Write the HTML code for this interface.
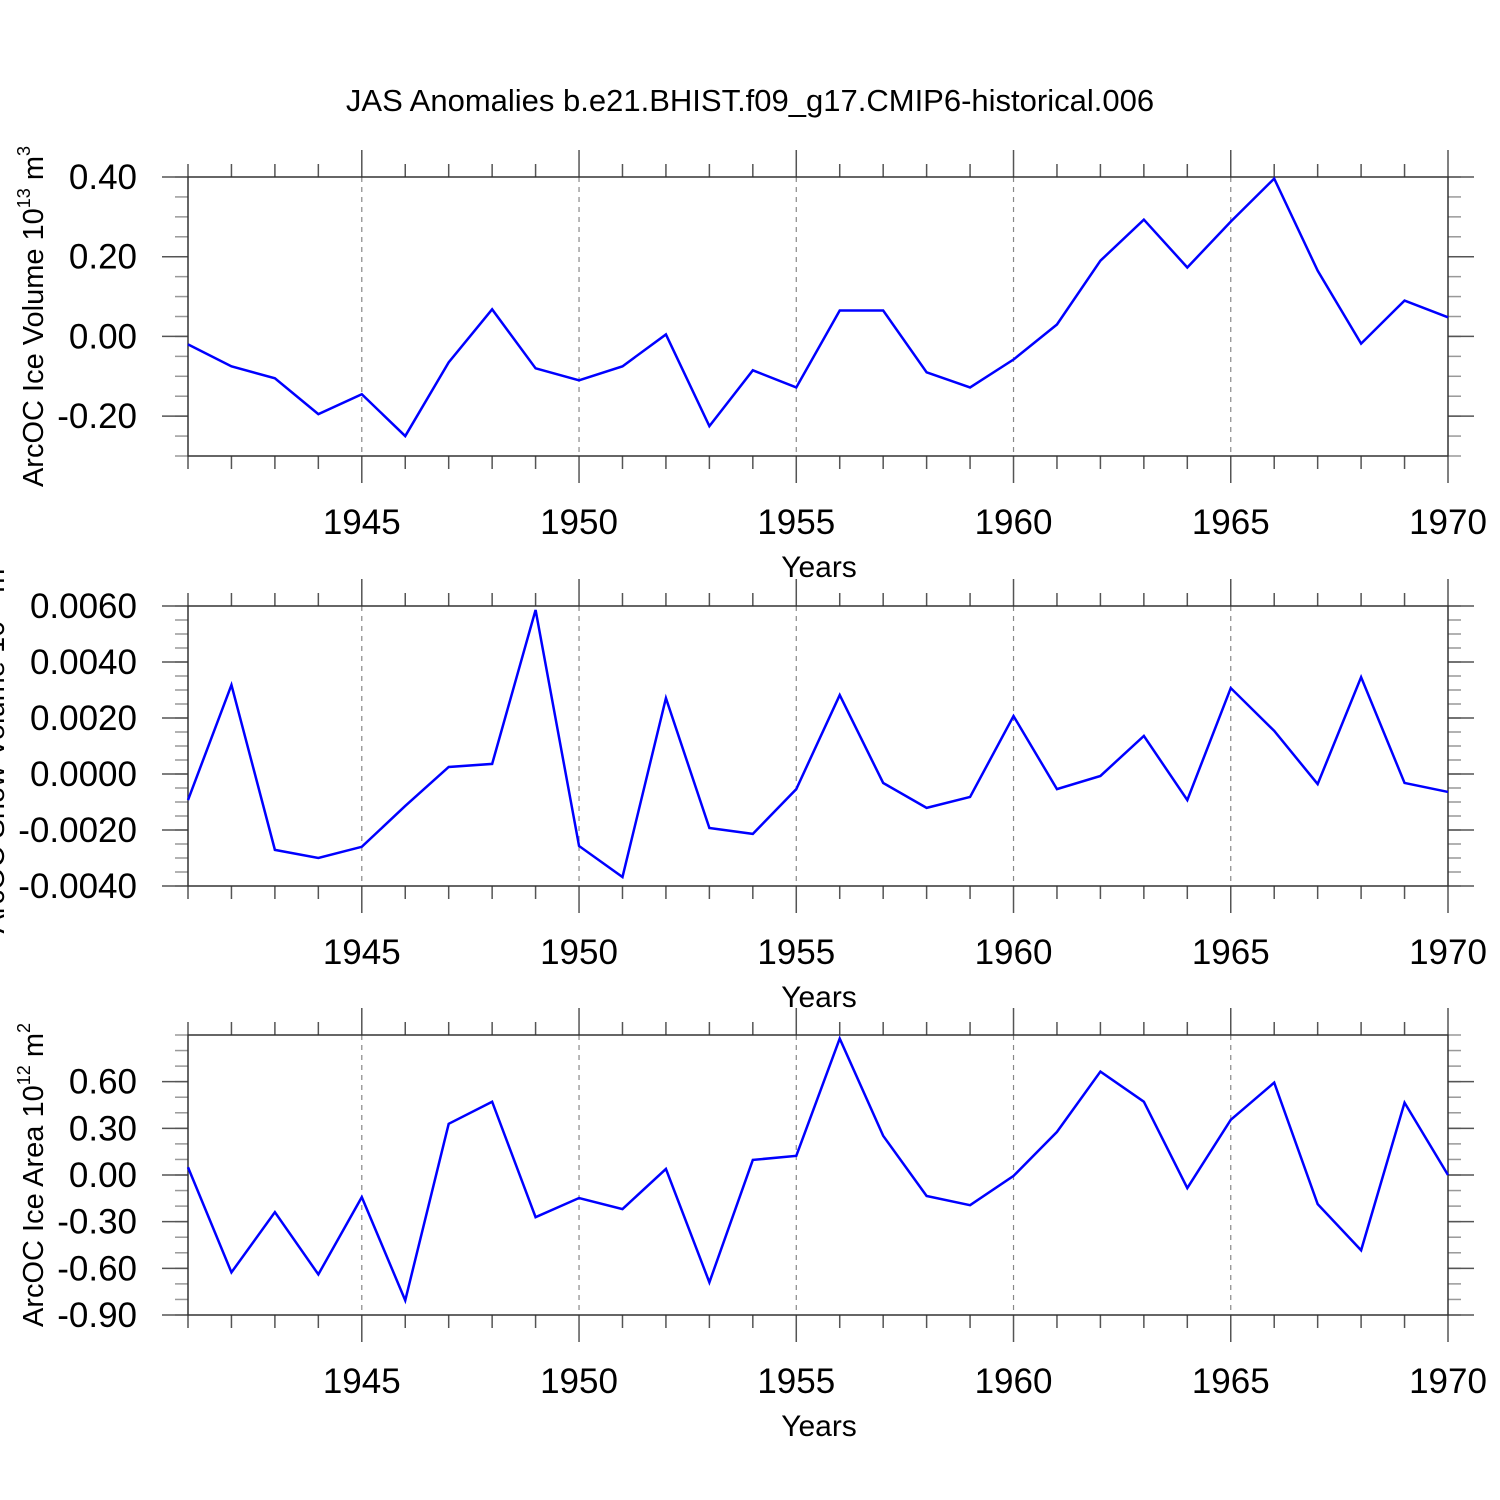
<!DOCTYPE html>
<html><head><meta charset="utf-8"><style>
html,body{margin:0;padding:0;background:#fff;}
svg{display:block;font-family:"Liberation Sans",Arial,sans-serif;}
</style></head><body>
<svg id="chart" width="1500" height="1500" viewBox="0 0 1500 1500">
<text x="750" y="111" text-anchor="middle" font-size="31">JAS Anomalies b.e21.BHIST.f09_g17.CMIP6-historical.006</text>
</svg>
<script>
const years = [1941,1942,1943,1944,1945,1946,1947,1948,1949,1950,1951,1952,1953,1954,1955,1956,1957,1958,1959,1960,1961,1962,1963,1964,1965,1966,1967,1968,1969,1970];
const iceVolume = [-0.02,-0.075,-0.105,-0.195,-0.145,-0.25,-0.065,0.068,-0.08,-0.11,-0.075,0.005,-0.225,-0.085,-0.128,0.065,0.065,-0.09,-0.128,-0.058,0.03,0.19,0.293,0.173,0.288,0.396,0.165,-0.018,0.09,0.048];
const snowVolume = [-0.00093,0.00318,-0.00271,-0.0030,-0.0026,-0.00114,0.00025,0.00036,0.00586,-0.00257,-0.00368,0.00271,-0.00193,-0.00214,-0.00054,0.00282,-0.00032,-0.00121,-0.00082,0.00207,-0.00054,-0.00007,0.00136,-0.00093,0.00307,0.00154,-0.00036,0.00346,-0.00032,-0.00064];
const iceArea = [0.05,-0.626,-0.239,-0.639,-0.142,-0.806,0.329,0.471,-0.271,-0.148,-0.219,0.039,-0.69,0.097,0.123,0.877,0.252,-0.135,-0.194,-0.006,0.277,0.665,0.471,-0.084,0.355,0.594,-0.187,-0.484,0.465,0];
const xTicks = [1945,1950,1955,1960,1965,1970];
const ticks1 = [-0.2,0,0.2,0.4];
const ticks1Labels = ["-0.20","0.00","0.20","0.40"];
const ticks2 = [-0.004,-0.002,0,0.002,0.004,0.006];
const ticks2Labels = ["-0.0040","-0.0020","0.0000","0.0020","0.0040","0.0060"];
const ticks3 = [-0.9,-0.6,-0.3,0,0.3,0.6];
const ticks3Labels = ["-0.90","-0.60","-0.30","0.00","0.30","0.60"];

const NS="http://www.w3.org/2000/svg";
const svg=document.getElementById('chart');
const L=188,R=1448;
function x(yr){return L+(yr-1941)*(R-L)/29;}
function mk(tag,attrs,parent){const e=document.createElementNS(NS,tag);for(const k in attrs)e.setAttribute(k,attrs[k]);(parent||svg).appendChild(e);return e;}

function panel(id,top,bot,ymin,ymax,vals,ticks,labels,minorStep,ylabel,sup,unit,unitSup,labelX){
  const g=mk('g',{});
  
  
  const y=v=>bot-(v-ymin)/(ymax-ymin)*(bot-top);
  xTicks.forEach(t=>{if(t<1970){const l=mk('line',{x1:x(t),x2:x(t),y1:top,y2:bot,stroke:'#888','stroke-width':1.2,'stroke-dasharray':'5,5'},g);
  
  }});
  years.forEach(t=>{const maj=xTicks.includes(t);const len=maj?27:13;
    mk('line',{x1:x(t),x2:x(t),y1:top-len,y2:top,stroke:'#555','stroke-width':1.5},g);
    mk('line',{x1:x(t),x2:x(t),y1:bot,y2:bot+len,stroke:'#555','stroke-width':1.5},g);});
  for(let v=ymin;v<=ymax+1e-9;v+=minorStep){const yy=y(v);
    mk('line',{x1:L-13,x2:L,y1:yy,y2:yy,stroke:'#999','stroke-width':1.5},g);
    mk('line',{x1:R,x2:R+13,y1:yy,y2:yy,stroke:'#999','stroke-width':1.5},g);}
  ticks.forEach((t,i)=>{const yy=y(t);
    mk('line',{x1:L-26,x2:L,y1:yy,y2:yy,stroke:'#555','stroke-width':1.5},g);
    mk('line',{x1:R,x2:R+26,y1:yy,y2:yy,stroke:'#555','stroke-width':1.5},g);
    const tx=mk('text',{x:L-51,y:yy+12,'text-anchor':'end','font-size':35},g);tx.textContent=labels[i];
    
    });
  mk('rect',{x:L,y:top,width:R-L,height:bot-top,fill:'none',stroke:'#333','stroke-width':1.5},g);
  xTicks.forEach(t=>{const tx=mk('text',{x:x(t),y:bot+78,'text-anchor':'middle','font-size':35},g);tx.textContent=t;
    
    });
  const xt=mk('text',{x:819,y:bot+121,'text-anchor':'middle','font-size':30},g);xt.textContent='Years';
  
  
  const yt=mk('text',{transform:`translate(${labelX},${(top+bot)/2}) rotate(-90)`,'text-anchor':'middle','font-size':29},g);
  
  
  const a=mk('tspan',{},yt);a.textContent=ylabel+' 10';
  const b=mk('tspan',{'font-size':18,dy:-13},yt);b.textContent=sup;
  const c=mk('tspan',{dy:13},yt);c.textContent=' '+unit;
  const d=mk('tspan',{'font-size':18,dy:-13},yt);d.textContent=unitSup;
  const pts=vals.map((v,i)=>x(years[i])+','+y(v)).join(' ');
  const pl=mk('polyline',{points:pts,fill:'none',stroke:'#0000ff','stroke-width':2.5,'stroke-linejoin':'miter'},g);
  
  
}
panel('ice-volume',177,456,-0.3,0.4,iceVolume,ticks1,ticks1Labels,0.05,'ArcOC Ice Volume','13','m','3',43);
panel('snow-volume',606,886,-0.004,0.006,snowVolume,ticks2,ticks2Labels,0.0005,'ArcOC Snow Volume','13','m','3',4);
panel('ice-area',1035,1315,-0.9,0.9,iceArea,ticks3,ticks3Labels,0.1,'ArcOC Ice Area','12','m','2',43);
</script>
</body></html>
